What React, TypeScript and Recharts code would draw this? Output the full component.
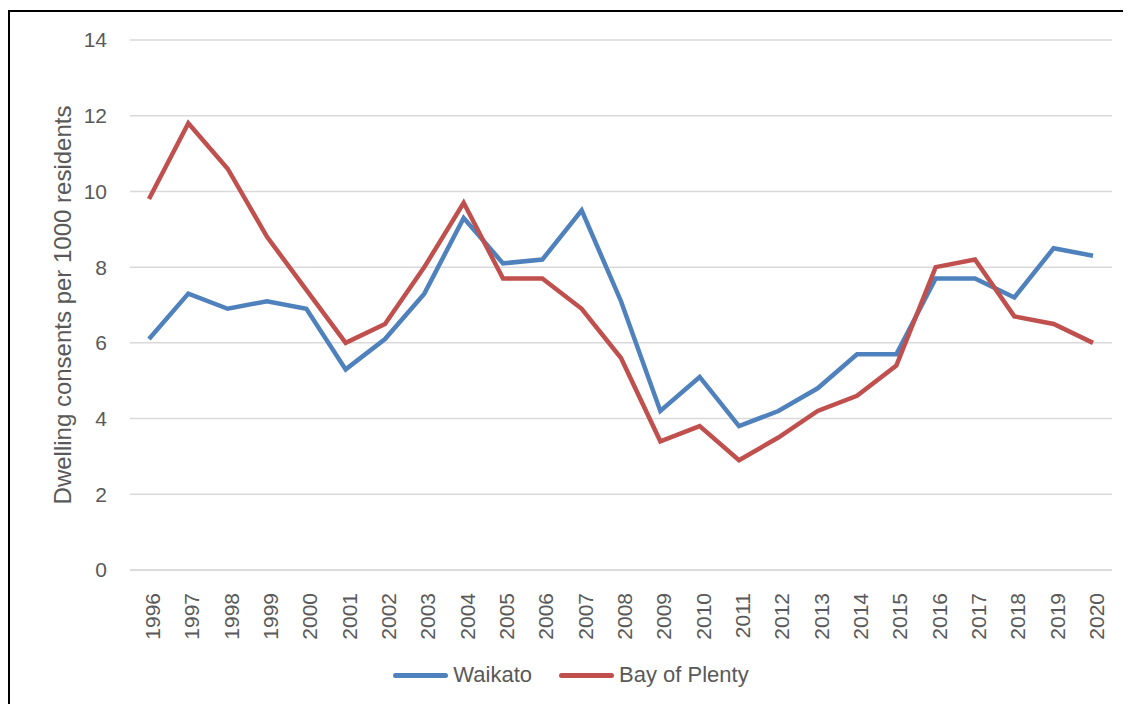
import { CartesianGrid, Label, Legend, Line, LineChart, XAxis, YAxis } from "recharts"

const years = [
  "1996", "1997", "1998", "1999", "2000", "2001", "2002", "2003", "2004", "2005", "2006", "2007", "2008",
  "2009", "2010", "2011", "2012", "2013", "2014", "2015", "2016", "2017", "2018", "2019", "2020",
]

const waikato = [
  6.1, 7.3, 6.9, 7.1, 6.9, 5.3, 6.1, 7.3, 9.3, 8.1, 8.2, 9.5, 7.1,
  4.2, 5.1, 3.8, 4.2, 4.8, 5.7, 5.7, 7.7, 7.7, 7.2, 8.5, 8.3,
]

const bayOfPlenty = [
  9.8, 11.8, 10.6, 8.8, 7.4, 6.0, 6.5, 8.0, 9.7, 7.7, 7.7, 6.9, 5.6,
  3.4, 3.8, 2.9, 3.5, 4.2, 4.6, 5.4, 8.0, 8.2, 6.7, 6.5, 6.0,
]

const yTicks = [0, 2, 4, 6, 8, 10, 12, 14]

const data = years.map((year, i) => ({
  year,
  waikato: waikato[i],
  bop: bayOfPlenty[i],
}))

const BLUE = "#4f81bd"
const RED = "#c0504d"
const TEXT = "#595959"
const FONT = "'Liberation Sans', Arial, sans-serif"

function YearTick(props: any) {
  const { x, y, payload } = props
  return (
    <text
      x={0}
      y={0}
      transform={`translate(${x + 11},${y + 15}) rotate(-90)`}
      textAnchor="end"
      fill={TEXT}
      fontSize={21}
      fontFamily={FONT}
    >
      {payload.value}
    </text>
  )
}

function LegendContent() {
  const items = [
    { name: "Waikato", color: BLUE },
    { name: "Bay of Plenty", color: RED },
  ]
  return (
    <div style={{ display: "flex", justifyContent: "center", gap: 27, fontFamily: FONT, fontSize: 22, color: TEXT }}>
      {items.map((it) => (
        <div key={it.name} style={{ display: "flex", alignItems: "center" }}>
          <span style={{ display: "inline-block", width: 55, height: 5, borderRadius: 3, background: it.color, marginRight: 5 }} />
          <span>{it.name}</span>
        </div>
      ))}
    </div>
  )
}

export default function App() {
  return (
    <div
      style={{
        marginTop: 2,
        width: 1121,
        height: 692,
        borderLeft: "2px solid #000",
        borderTop: "2px solid #000",
        background: "#fff",
      }}
    >
      <LineChart width={1121} height={692} data={data} margin={{ top: 28, right: 19, bottom: 0, left: 20 }}>
        <CartesianGrid vertical={false} stroke="#d9d9d9" strokeWidth={1.5} />
        <XAxis
          dataKey="year"
          axisLine={{ stroke: "#d9d9d9", strokeWidth: 1.5 }}
          tickLine={false}
          interval={0}
          height={108}
          padding={{ left: 19, right: 19 }}
          tick={<YearTick />}
        />
        <YAxis
          domain={[0, 14]}
          ticks={yTicks}
          width={100}
          axisLine={false}
          tickLine={false}
          tickSize={0}
          tickMargin={23}
          tick={{ fill: TEXT, fontSize: 21, fontFamily: FONT }}
        >
          <Label
            value="Dwelling consents per 1000 residents"
            angle={-90}
            position="insideLeft"
            offset={32}
            style={{ textAnchor: "middle", fill: TEXT, fontSize: 24, fontFamily: FONT }}
          />
        </YAxis>
        <Legend verticalAlign="bottom" wrapperStyle={{ bottom: 16 }} content={<LegendContent />} />
        <Line
          type="linear"
          dataKey="waikato"
          name="Waikato"
          stroke={BLUE}
          strokeWidth={4.5}
          dot={false}
          isAnimationActive={false}
        />
        <Line
          type="linear"
          dataKey="bop"
          name="Bay of Plenty"
          stroke={RED}
          strokeWidth={4.5}
          dot={false}
          isAnimationActive={false}
        />
      </LineChart>
    </div>
  )
}
